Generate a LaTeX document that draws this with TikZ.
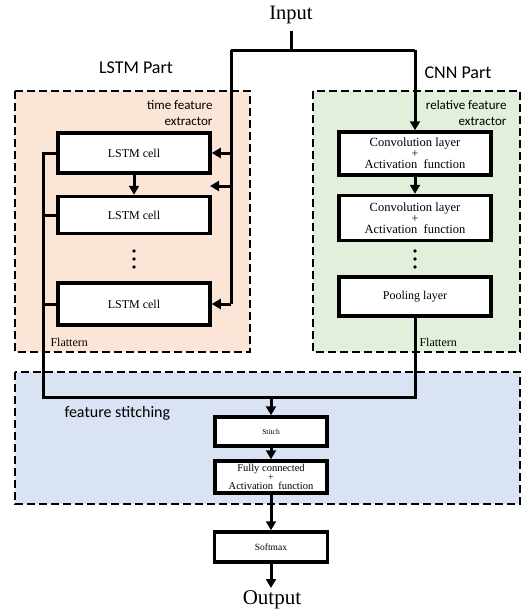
\documentclass[tikz,border=0pt]{standalone}
\usepackage{fontspec}
\setmainfont{Liberation Serif}
\newfontfamily\carlitofont{Carlito}
\usetikzlibrary{arrows.meta}
\definecolor{orfill}{HTML}{FBE5D6}
\definecolor{grfill}{HTML}{E2EFDA}
\definecolor{blfill}{HTML}{DAE3F3}
\tikzset{
  region/.style={draw=black, line width=2pt, dash pattern=on 8pt off 4pt},
  blk/.style={draw=black, fill=white, line width=3.5pt, inner sep=0pt, align=center, font=\fontsize{12}{13}\selectfont},
  conn/.style={draw=black, line width=3pt, line join=miter},
  arr/.style={conn, -{Triangle[length=9pt,width=10pt]}},
  lbl/.style={font=\carlitofont\fontsize{18}{20}\selectfont},
  sub/.style={font=\carlitofont\fontsize{13}{16}\selectfont, align=right},
  flat/.style={font=\fontsize{12}{13}\selectfont, anchor=west},
}
\begin{document}
\begin{tikzpicture}[x=1pt,y=-1pt]
\useasboundingbox (0,0) rectangle (522,611);
% regions
\fill[orfill] (15,91) rectangle (250,352);
\draw[region] (15,91) rectangle (250,352);
\fill[grfill] (313,91) rectangle (520,352);
\draw[region] (313,91) rectangle (520,352);
\fill[blfill] (15,372) rectangle (520,504);
\draw[region] (15,372) rectangle (520,504);
% labels
\node[font=\fontsize{20.5}{22}\selectfont] (in) at (291,15) {Input};
\node[font=\fontsize{21}{22}\selectfont] (out) at (272,600) {Output};
\node[lbl] (lp) at (136,68) {LSTM Part};
\node[lbl] (cp) at (458,73) {CNN Part};
\node[sub, anchor=east] (tfe) at (216,113) {time feature\\extractor};
\node[sub, anchor=east] (rfe) at (510,113) {relative feature\\extractor};
\node[lbl, font=\carlitofont\fontsize{16}{18}\selectfont, anchor=west] (fs) at (61,413) {feature stitching};
\node[flat] (fl1) at (47,342) {Flattern};
\node[flat] (fl2) at (416,342) {Flattern};
% LSTM cells
\node[blk, minimum width=152pt, minimum height=40pt] (c1) at (134,153) {LSTM cell};
\node[blk, minimum width=152pt, minimum height=37pt] (c2) at (134,215) {LSTM cell};
\node[blk, minimum width=152pt, minimum height=42pt] (c3) at (134,304) {LSTM cell};
% CNN blocks
\node[blk, minimum width=152pt, minimum height=43pt, font=\fontsize{12.5}{11}\selectfont] (v1) at (415,153.5) {Convolution layer\\{\fontsize{12}{8}\selectfont +}\\Activation\ \ function};
\node[blk, minimum width=152pt, minimum height=45pt, font=\fontsize{12.5}{11}\selectfont] (v2) at (415,218) {Convolution layer\\{\fontsize{12}{8}\selectfont +}\\Activation\ \ function};
\node[blk, minimum width=152pt, minimum height=39pt] (pl) at (415,296.5) {Pooling layer};
% dots
\foreach \yy in {251,259,267}{
  \fill (134,\yy) circle (1.9);
  \fill (415,\yy) circle (1.9);
}
% stitching
\node[blk, minimum width=112pt, minimum height=29pt, font=\fontsize{7.5}{8}\selectfont] (st) at (271,431.5) {Stitch};
\node[blk, minimum width=112pt, minimum height=32pt, font=\fontsize{10.5}{9}\selectfont] (fc) at (271,477) {Fully connected\\{\fontsize{10}{7}\selectfont +}\\Activation\ \ function};
\node[blk, minimum width=113pt, minimum height=30pt, font=\fontsize{9.5}{10}\selectfont] (sm) at (271,547) {Softmax};
% coordinates
\coordinate (ij) at (291,50);
\coordinate (tl) at (231,50);
\coordinate (tr) at (415,50);
\coordinate (lj) at (43,397);
\coordinate (rj) at (415,397);
\coordinate (mj) at (271,397);
\coordinate (a2s) at (231,186);
\coordinate (a2e) at (210,186);
\coordinate (ot) at (271,588);
% connectors
\draw[conn] (291,31) -- (ij);
\draw[conn] (tl) -- (tr);
\draw[arr] (tr) -- (v1.north);
\draw[conn] (tl) -- (c3.east -| tl);
\draw[arr] (c1.east -| tl) -- (c1.east);
\draw[arr] (a2s) -- (a2e);
\draw[arr] (c3.east -| tl) -- (c3.east);
\draw[arr] (c1.south) -- (c2.north);
\draw[arr] (v1.south) -- (v2.north);
\draw[conn] (c1.west) -| (lj) -- (rj) -- (pl.south);
\draw[conn] (c2.west) -- (c2.west -| lj);
\draw[conn] (c3.west) -- (c3.west -| lj);
\draw[arr] (mj) -- (st.north);
\draw[arr] (st.south) -- (fc.north);
\draw[arr] (fc.south) -- (sm.north);
\draw[arr] (sm.south) -- (ot);
\end{tikzpicture}
\end{document}
